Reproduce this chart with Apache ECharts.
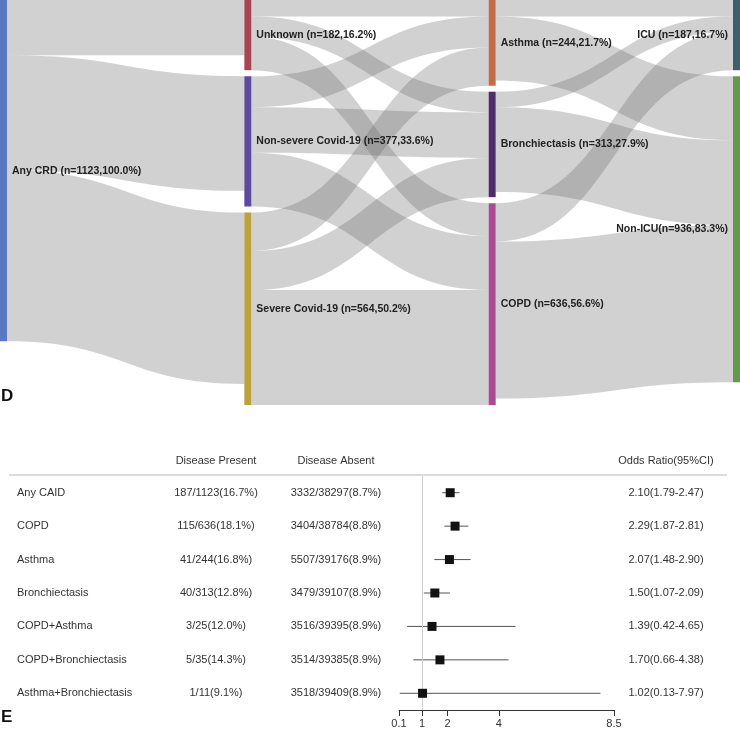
<!DOCTYPE html>
<html>
<head>
<meta charset="utf-8">
<script src="https://cdn.jsdelivr.net/npm/echarts@6/dist/echarts.min.js"></script>
<style>
  html, body { margin: 0; padding: 0; background: #fff; }
  #main { width: 740px; height: 732px; }
</style>
</head>
<body>
<div id="main"></div>
<script>
  // panel D: sankey
  const nodeNames = [
    'Any CRD (n=1123,100.0%)',
    'Unknown (n=182,16.2%)', 'Non-severe Covid-19 (n=377,33.6%)', 'Severe Covid-19 (n=564,50.2%)',
    'Asthma (n=244,21.7%)', 'Bronchiectasis (n=313,27.9%)', 'COPD (n=636,56.6%)',
    'ICU (n=187,16.7%)', 'Non-ICU(n=936,83.3%)'
  ]
  // flows
  const linkFrom = [0, 0, 0, 1, 1, 1, 2, 2, 2, 3, 3, 3, 4, 4, 5, 5, 6, 6]
  const linkTo = [1, 2, 3, 4, 5, 6, 4, 5, 6, 4, 5, 6, 7, 8, 7, 8, 7, 8]
  const linkValues = [182, 377, 564, 54, 68, 109, 102, 150, 177, 126, 129, 378, 54, 211, 51, 279, 126, 517]

  // panel E: forest plot
  const rowNames = ['Any CAID', 'COPD', 'Asthma', 'Bronchiectasis', 'COPD+Asthma', 'COPD+Bronchiectasis', 'Asthma+Bronchiectasis']
  const present = ['187/1123(16.7%)', '115/636(18.1%)', '41/244(16.8%)', '40/313(12.8%)', '3/25(12.0%)', '5/35(14.3%)', '1/11(9.1%)']
  const absent = ['3332/38297(8.7%)', '3404/38784(8.8%)', '5507/39176(8.9%)', '3479/39107(8.9%)', '3516/39395(8.9%)', '3514/39385(8.9%)', '3518/39409(8.9%)']
  const oddsRatio = [2.10, 2.29, 2.07, 1.50, 1.39, 1.70, 1.02]
  const ciLow = [1.79, 1.87, 1.48, 1.07, 0.42, 0.66, 0.13]
  const ciHigh = [2.47, 2.81, 2.90, 2.09, 4.65, 4.38, 7.97]
  const orTicks = [0.1, 1, 2, 4, 8.5]

  const nodeColors = ['#5a78c2', '#a84553', '#5c4b9c', '#bca23a', '#c26c48', '#4f2d6b', '#a84b94', '#3f5e69', '#5f9b48']
  const font = 'Liberation Sans, Arial, Helvetica, sans-serif'

  const chart = echarts.init(document.getElementById('main'))

  const orText = oddsRatio.map((v, i) => v.toFixed(2) + '(' + ciLow[i].toFixed(2) + '-' + ciHigh[i].toFixed(2) + ')')

  const tableAxis = (data, offset, name, pos, align) => ({
    type: 'category',
    gridIndex: 0,
    position: pos,
    offset: offset,
    inverse: true,
    data: data,
    name: name,
    nameLocation: 'start',
    nameGap: 15,
    nameTextStyle: { color: '#333', fontSize: 11, align: 'center', verticalAlign: 'middle', fontFamily: font },
    axisLine: { show: false },
    axisTick: { show: false },
    splitLine: { show: false },
    axisLabel: { color: '#333', fontSize: 11, margin: 0, align: align, fontFamily: font }
  })

  const option = {
    animation: false,
    textStyle: { fontFamily: font },
    title: [
      { text: 'D', left: 1, top: 388, padding: 0, textStyle: { fontSize: 17, fontWeight: 'bold', color: '#111' } },
      { text: 'E', left: 1, top: 709, padding: 0, textStyle: { fontSize: 17, fontWeight: 'bold', color: '#111' } }
    ],
    graphic: [
      { type: 'line', shape: { x1: 9, y1: 475, x2: 727, y2: 475 }, style: { stroke: '#dcdcdc', lineWidth: 2 }, silent: true }
    ],
    grid: [{ left: 399, right: 126, top: 476, bottom: 22 }],
    xAxis: [{
      type: 'value',
      gridIndex: 0,
      min: 0.1,
      max: 8.5,
      axisLine: { show: true, onZero: false, lineStyle: { color: '#333', width: 1 } },
      axisTick: { show: true, length: 6, customValues: orTicks, lineStyle: { color: '#333' } },
      axisLabel: { customValues: orTicks, color: '#333', fontSize: 11, margin: 8, formatter: (v) => String(v) },
      splitLine: { show: false }
    }],
    yAxis: [
      tableAxis(rowNames, 382, '', 'left', 'left'),
      tableAxis(present, 183, 'Disease Present', 'left', 'center'),
      tableAxis(absent, 63, 'Disease Absent', 'left', 'center'),
      tableAxis(orText, 52, 'Odds Ratio(95%CI)', 'right', 'center')
    ],
    series: [
      {
        type: 'sankey',
        left: 0,
        right: 0,
        top: 0,
        bottom: 327,
        nodeWidth: 7,
        nodeGap: 6,
        layoutIterations: 0,
        draggable: false,
        emphasis: { disabled: true },
        label: { color: '#222', fontSize: 10.5, fontWeight: 'bold', distance: 5 },
        lineStyle: { color: '#666', opacity: 0.3, curveness: 0.5 },
        data: nodeNames.map((name, i) => ({
          name: name,
          itemStyle: { color: nodeColors[i], borderWidth: 0 },
          label: { position: i >= 7 ? 'left' : 'right' }
        })),
        links: linkValues.map((v, i) => ({ source: nodeNames[linkFrom[i]], target: nodeNames[linkTo[i]], value: v }))
      },
      {
        type: 'custom',
        xAxisIndex: 0,
        yAxisIndex: 0,
        encode: { x: [0, 1], y: 2 },
        data: ciLow.map((lo, i) => [lo, ciHigh[i], i]),
        renderItem: (params, api) => {
          const p1 = api.coord([api.value(0), api.value(2)])
          const p2 = api.coord([api.value(1), api.value(2)])
          return {
            type: 'line',
            shape: { x1: p1[0], y1: p1[1], x2: p2[0], y2: p2[1] },
            style: { stroke: '#555', lineWidth: 1 }
          }
        },
        silent: true
      },
      {
        type: 'scatter',
        xAxisIndex: 0,
        yAxisIndex: 0,
        symbol: 'rect',
        symbolSize: 9,
        itemStyle: { color: '#111', opacity: 1 },
        data: oddsRatio.map((v, i) => [v, i]),
        markLine: {
          silent: true,
          symbol: 'none',
          label: { show: false },
          lineStyle: { color: '#cfcfcf', type: 'solid', width: 1 },
          data: [{ xAxis: 1 }]
        },
        z: 5
      }
    ]
  }

  chart.setOption(option)
</script>
</body>
</html>
